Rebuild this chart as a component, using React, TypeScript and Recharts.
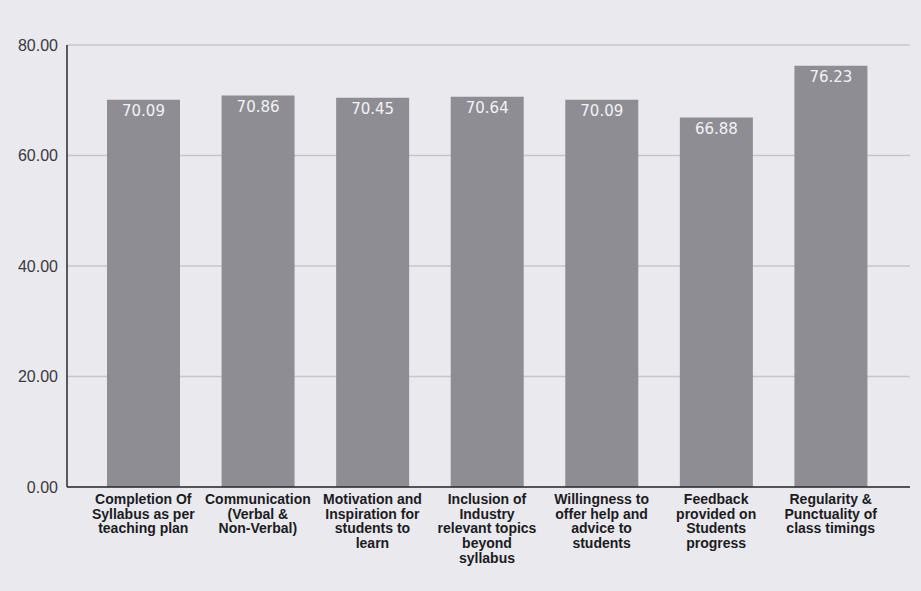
import React from 'react';
import { BarChart, Bar, XAxis, YAxis, CartesianGrid, LabelList } from 'recharts';

// Feedback parameters (each label wraps onto several lines)
const categories = [
  'Completion Of\nSyllabus as per\nteaching plan',
  'Communication\n(Verbal &\nNon-Verbal)',
  'Motivation and\nInspiration for\nstudents to\nlearn',
  'Inclusion of\nIndustry\nrelevant topics\nbeyond\nsyllabus',
  'Willingness to\noffer help and\nadvice to\nstudents',
  'Feedback\nprovided on\nStudents\nprogress',
  'Regularity &\nPunctuality of\nclass timings',
];
const scores = [70.09, 70.86, 70.45, 70.64, 70.09, 66.88, 76.23];
const yTicks = [0, 20, 40, 60, 80];

const data = categories.map((name, i) => ({ name, score: scores[i] }));

const WrappedTick = ({ x, y, payload }: any) => {
  const lines = String(payload.value).split('\n');
  return (
    <g transform={`translate(${x},${y})`}>
      <text
        textAnchor="middle"
        fill="#1c1c1e"
        fontFamily="'Liberation Sans', Arial, sans-serif"
        fontWeight="bold"
        fontSize={14}
      >
        {lines.map((l, i) => (
          <tspan key={i} x={0} dy={i === 0 ? 9 : 14.7}>{l}</tspan>
        ))}
      </text>
    </g>
  );
};

export default function App() {
  return (
    <div style={{ position: 'absolute', left: 0, top: 0, width: 921, height: 591, background: '#e9e9ee' }}>
      <BarChart
        width={921}
        height={591}
        data={data}
        margin={{ top: 45, right: 11, left: 0, bottom: 0 }}
      >
        <CartesianGrid vertical={false} stroke="#c6c6cc" strokeWidth={1.5} />
        <XAxis
          dataKey="name"
          interval={0}
          height={104}
          tick={<WrappedTick />}
          tickLine={false}
          axisLine={{ stroke: '#2a2a2e', strokeWidth: 1.5 }}
          padding={{ left: 19, right: 22 }}
        />
        <YAxis
          width={67}
          domain={[0, 80]}
          ticks={yTicks}
          tickFormatter={(v: number) => v.toFixed(2)}
          tick={{ fill: '#3a3a3e', fontSize: 16, fontFamily: "'Liberation Sans', Arial, sans-serif" }}
          tickLine={false}
          axisLine={{ stroke: '#2a2a2e', strokeWidth: 1.5 }}
          tickMargin={3}
        />
        <Bar dataKey="score" fill="#8e8d94" barSize={73} isAnimationActive={false}>
          <LabelList
            dataKey="score"
            position="insideTop"
            offset={6}
            formatter={(v: number) => v.toFixed(2)}
            fill="#f2f2f4"
            fontSize={15}
            fontFamily="'DejaVu Sans', sans-serif"
          />
        </Bar>
      </BarChart>
    </div>
  );
}
